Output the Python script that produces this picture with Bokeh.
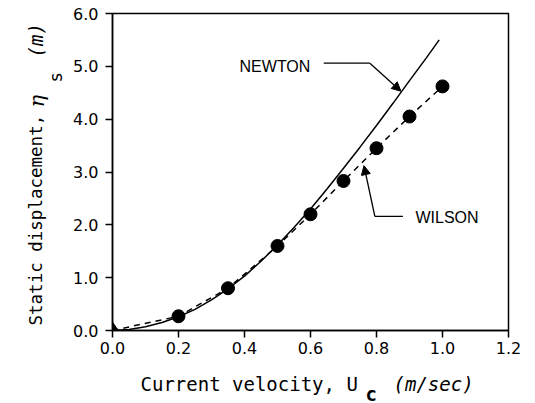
import math
from bokeh.plotting import figure
from bokeh.layouts import row, column
from bokeh.models import (Range1d, FixedTicker, NumeralTickFormatter, Label,
                          Arrow, NormalHead)
from bokeh.embed import file_html
from bokeh.resources import INLINE

# ---- data ----
wilson_x = [0.0, 0.2, 0.35, 0.5, 0.6, 0.7, 0.8, 0.9, 1.0]
wilson_y = [0.0, 0.27, 0.80, 1.60, 2.20, 2.83, 3.45, 4.05, 4.62]

newton_x = [0.0, 0.05, 0.1, 0.15, 0.2, 0.25, 0.3, 0.35, 0.4, 0.45, 0.5,
            0.55, 0.6, 0.65, 0.7, 0.75, 0.8, 0.85, 0.9, 0.95, 0.99]
newton_y = [0.0, 0.02, 0.07, 0.15, 0.26, 0.40, 0.58, 0.79, 1.03, 1.31, 1.62,
            1.95, 2.30, 2.68, 3.07, 3.47, 3.88, 4.30, 4.73, 5.15, 5.50]

x_ticks = [0.0, 0.2, 0.4, 0.6, 0.8, 1.0, 1.2]
y_ticks = [0.0, 1.0, 2.0, 3.0, 4.0, 5.0, 6.0]

# annotation anchors (data units)
newton_label = (0.385, 5.0)
newton_leader_x = [0.64, 0.78]
newton_leader_y = [5.06, 5.06]
newton_tip = (0.874, 4.53)
wilson_label = (0.918, 2.14)
wilson_leader_x = [0.88, 0.795]
wilson_leader_y = [2.16, 2.16]
wilson_tip = (0.762, 3.12)

TICK_FONT = "DejaVu Sans"
TITLE_FONT = "DejaVu Sans Mono"

W, H = 535, 403          # page size
YT_W = 66                # strip holding the y title
XT_H = 40                # strip holding the x title
FL, FR, FT, FB = 112, 508, 13, 330   # frame edges on the page

p = figure(width=W - YT_W, height=H - XT_H, output_backend="svg",
           toolbar_location=None,
           x_range=Range1d(0, 1.2), y_range=Range1d(0, 6),
           min_border_left=FL - YT_W, min_border_right=W - FR,
           min_border_top=FT, min_border_bottom=(H - XT_H) - FB)
p.grid.visible = False
p.outline_line_color = "black"
p.outline_line_width = 1.5
p.background_fill_color = "white"
p.border_fill_color = "white"

for ax, ticks in ((p.xaxis, x_ticks), (p.yaxis, y_ticks)):
    ax.ticker = FixedTicker(ticks=ticks)
    ax.formatter = NumeralTickFormatter(format="0.0")
    ax.axis_line_color = "black"
    ax.axis_line_width = 1.5
    ax.major_tick_line_color = "black"
    ax.major_tick_line_width = 1.5
    ax.major_tick_out = 7
    ax.major_tick_in = 0
    ax.minor_tick_line_color = None
    ax.major_label_text_font = TICK_FONT
    ax.major_label_text_font_size = "16px"
    ax.major_label_text_color = "black"
p.xaxis.major_label_standoff = 4
p.yaxis.major_label_standoff = 7

# curves
p.line(newton_x, newton_y, line_color="black", line_width=1.5)
p.line(wilson_x, wilson_y, line_color="black", line_width=1.5, line_dash="6 5")
p.scatter(wilson_x[1:], wilson_y[1:], marker="circle", size=13,
          fill_color="black", line_color="black")
p.scatter(wilson_x[:1], wilson_y[:1], marker="diamond", size=17,
          fill_color="black", line_color="black")

# annotations
p.add_layout(Label(x=newton_label[0], y=newton_label[1], text="NEWTON",
                   text_font="Liberation Sans", text_font_size="16px",
                   text_color="black",
                   text_baseline="middle", text_align="left"))
p.line(newton_leader_x, newton_leader_y, line_color="black", line_width=1.3)
p.add_layout(Arrow(x_start=newton_leader_x[-1], y_start=newton_leader_y[-1],
                   x_end=newton_tip[0], y_end=newton_tip[1], line_width=1.3,
                   end=NormalHead(size=9, fill_color="black", line_color="black")))
p.add_layout(Label(x=wilson_label[0], y=wilson_label[1], text="WILSON",
                   text_font="Liberation Sans", text_font_size="16px",
                   text_color="black",
                   text_baseline="middle", text_align="left"))
p.line(wilson_leader_x, wilson_leader_y, line_color="black", line_width=1.3)
p.add_layout(Arrow(x_start=wilson_leader_x[-1], y_start=wilson_leader_y[-1],
                   x_end=wilson_tip[0], y_end=wilson_tip[1], line_width=1.3,
                   end=NormalHead(size=9, fill_color="black", line_color="black")))


def lab(fig, text, x, y, size, angle=0.0, style="normal", font=TITLE_FONT):
    fig.add_layout(Label(x=x, y=y, text=text, angle=angle, text_font=font,
                         text_font_size=size, text_font_style=style,
                         text_baseline="alphabetic", text_align="left",
                         text_color="black"))


def blank(f):
    f.grid.visible = False
    f.outline_line_color = None
    f.border_fill_color = "white"
    f.background_fill_color = "white"
    return f


# y title strip: data x = page x, data y = page height - page y
ys = blank(figure(width=YT_W, height=H, output_backend="svg",
                  toolbar_location=None, x_range=Range1d(0, YT_W),
                  y_range=Range1d(0, H), x_axis_type=None, y_axis_type=None,
                  min_border=0))
lab(ys, "Static displacement,", 35, H - 325, "17.5px", angle=math.pi / 2)
lab(ys, "\u03b7", 36, H - 107, "21px", angle=math.pi / 2, style="italic",
    font="DejaVu Serif")
lab(ys, "s", 55, H - 82, "17.5px", angle=math.pi / 2)
lab(ys, "(m)", 35, H - 57, "19px", angle=math.pi / 2, style="italic")

# x title strip: frame lined up with the main frame, data x = page x
xs = blank(figure(width=W - YT_W, height=XT_H, output_backend="svg",
                  toolbar_location=None, x_range=Range1d(FL, FR),
                  y_range=Range1d(0, XT_H), x_axis_type=None, y_axis_type=None,
                  min_border_left=FL - YT_W, min_border_right=W - FR,
                  min_border_top=0, min_border_bottom=0))
lab(xs, "Current velocity, U", 140, H - 383, "19px")
lab(xs, "c", 365, H - 393, "19px", style="bold")
lab(xs, "(m/sec)", 393, H - 383, "19px", style="italic")

layout = row(ys, column(p, xs, spacing=0), spacing=0)
open("out.html", "w").write(file_html(layout, INLINE))
